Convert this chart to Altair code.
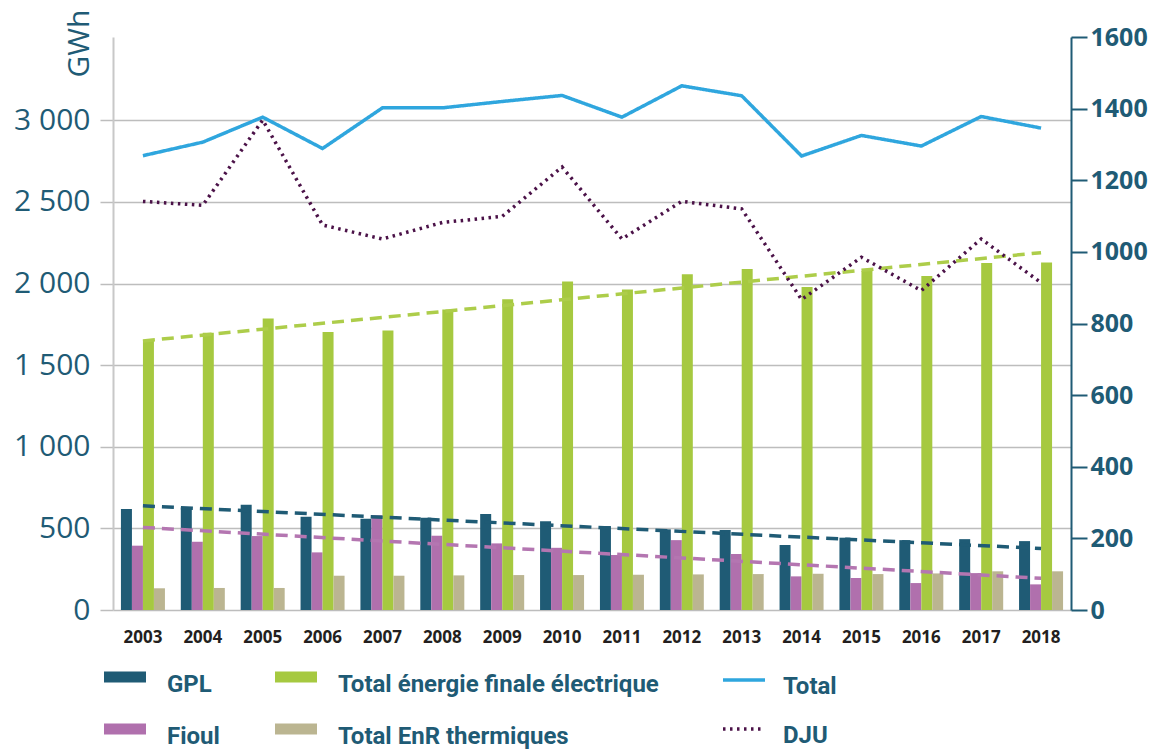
import altair as alt
import pandas as pd

# ---------------- data ----------------
years = list(range(2003, 2019))
gpl = [618, 628, 645, 571, 559, 565, 588, 543, 514, 494, 490, 398, 443, 428, 434, 422]
fioul = [394, 418, 453, 353, 581, 455, 408, 381, 337, 428, 343, 206, 196, 165, 226, 157]
elec = [1652, 1699, 1785, 1703, 1712, 1840, 1903, 2013, 1963, 2056, 2089, 1979, 2077, 2046, 2126, 2128]
enr = [133, 135, 135, 210, 210, 212, 214, 214, 216, 218, 220, 222, 220, 224, 237, 237]
total = [2783, 2866, 3019, 2827, 3076, 3076, 3115, 3152, 3019, 3211, 3150, 2781, 2907, 2842, 3023, 2952]
dju = [1141, 1130, 1368, 1075, 1036, 1082, 1099, 1237, 1036, 1141, 1120, 867, 985, 892, 1036, 914]

# trend lines (start 2003, end 2018)
trend_years = [2003, 2018]
trend_gpl = [638, 377]
trend_fioul = [506, 194]
trend_elec = [1648, 2189]

bar_series = ["GPL", "Fioul", "Total énergie finale électrique", "Total EnR thermiques"]
bar_colors = ["#1f5b75", "#b070ad", "#a6c940", "#bbb591"]
line_series = ["Total", "DJU"]
line_colors = ["#2fa6de", "#4b1248"]

TEAL = "#1f5b75"
FONT = "Open Sans"
LEG_FONT = "Roboto"

rows = []
for i, yr in enumerate(years):
    for s, vals in zip(bar_series, [gpl, fioul, elec, enr]):
        rows.append({"year": yr, "series": s, "value": vals[i]})
bars_df = pd.DataFrame(rows)

lines_df = pd.DataFrame({
    "year": years + years,
    "series": ["Total"] * len(years) + ["DJU"] * len(years),
    "value": total + dju,
})

trend_df = pd.DataFrame({
    "year": trend_years * 3,
    "trend": ["GPL"] * 2 + ["Fioul"] * 2 + ["Elec"] * 2,
    "value": trend_gpl + trend_fioul + trend_elec,
})

# ---------------- encodings ----------------
x_enc = alt.X(
    "year:O",
    scale=alt.Scale(paddingInner=0.265, paddingOuter=0.1325),
    axis=alt.Axis(title=None, labelAngle=0, labelFont=FONT, labelFontSize=17,
                  labelFontWeight="bold", labelColor="#231f20", ticks=False,
                  domain=False, labelPadding=19),
)

yleft_scale = alt.Scale(domain=[0, 3510], nice=False)
yleft_axis = alt.Axis(
    values=[0, 500, 1000, 1500, 2000, 2500, 3000],
    labelExpr="replace(format(datum.value, ','), ',', ' ')",
    labelFont=FONT, labelFontSize=30, labelColor=TEAL, labelPadding=10,
    grid=True, gridColor="#bdbdbd", gridWidth=1.5,
    tickColor="#bdbdbd", tickWidth=1.5, tickSize=13,
    domainColor="#c8c8c8", domainWidth=2,
    title="GWh", titleFont=FONT, titleFontSize=30, titleFontWeight="normal",
    titleColor=TEAL, titleAngle=-90, titleX=-34, titleY=6,
    titleAlign="center", titleBaseline="middle",
)

bar_legend = alt.Legend(
    title=None, orient="none", legendX=-9, legendY=627, columns=2,
    symbolType="M-1,-0.64H1V-0.12H-1Z", symbolSize=1764, symbolStrokeWidth=0,
    labelFont=LEG_FONT, labelFontSize=24, labelFontWeight="bold", labelColor=TEAL,
    labelOffset=21, labelLimit=500, columnPadding=55, rowPadding=19, padding=0,
)

line_legend = alt.Legend(
    title=None, orient="none", legendX=608, legendY=627, direction="vertical",
    symbolType="M-1,-0.33L1,-0.33", symbolSize=1764, symbolStrokeWidth=3.5,
    symbolFillColor="transparent",
    labelFont=LEG_FONT, labelFontSize=24, labelFontWeight="bold", labelColor=TEAL,
    labelOffset=16, labelLimit=500, rowPadding=14, padding=0,
)

stroke_enc = alt.Stroke("series:N", scale=alt.Scale(domain=line_series, range=line_colors),
                        legend=line_legend)
dash_enc = alt.StrokeDash("series:N", scale=alt.Scale(domain=line_series, range=[[1, 0], [2.5, 4.5]]),
                          legend=line_legend)

bars = alt.Chart(bars_df).mark_bar().encode(
    x=x_enc,
    xOffset=alt.XOffset("series:N", sort=bar_series, scale=alt.Scale(paddingInner=0, paddingOuter=0)),
    y=alt.Y("value:Q", scale=yleft_scale, axis=yleft_axis),
    color=alt.Color("series:N", scale=alt.Scale(domain=bar_series, range=bar_colors),
                    legend=bar_legend),
)

trend_layers = []
for key, col in [("GPL", "#1f5b75"), ("Fioul", "#b476b1"), ("Elec", "#adcd4a")]:
    trend_layers.append(
        alt.Chart(trend_df).transform_filter(f"datum.trend == '{key}'")
        .mark_line(strokeDash=[12, 7], strokeWidth=3.5)
        .encode(x=alt.X("year:O"), y=alt.Y("value:Q"), stroke=alt.value(col))
    )

total_line = (
    alt.Chart(lines_df).transform_filter("datum.series == 'Total'")
    .mark_line(strokeWidth=3.5)
    .encode(x=alt.X("year:O"), y=alt.Y("value:Q"), stroke=stroke_enc, strokeDash=dash_enc)
)

left = alt.layer(bars, *trend_layers, total_line)

dju_line = (
    alt.Chart(lines_df).transform_filter("datum.series == 'DJU'")
    .mark_line(strokeWidth=3.5)
    .encode(
        x=alt.X("year:O"),
        y=alt.Y("value:Q", scale=alt.Scale(domain=[0, 1600], nice=False),
                axis=alt.Axis(orient="right", values=list(range(0, 1601, 200)),
                              format="d", title=None, grid=False,
                              domainColor=TEAL, domainWidth=2,
                              tickColor=TEAL, tickWidth=2, tickSize=16,
                              labelFont=FONT, labelFontSize=25, labelFontWeight="bold",
                              labelColor=TEAL, labelPadding=3)),
        stroke=stroke_enc,
        strokeDash=dash_enc,
    )
)

chart = (
    alt.layer(left, dju_line)
    .resolve_scale(y="independent")
    .properties(
        width=958, height=573,
        autosize=alt.AutoSizeParams(type="none"),
        padding={"left": 105, "top": 29, "right": 84, "bottom": 139},
    )
    .configure_view(strokeWidth=0)
)

chart.save("out.html", embed_options={"renderer": "svg", "actions": False})
